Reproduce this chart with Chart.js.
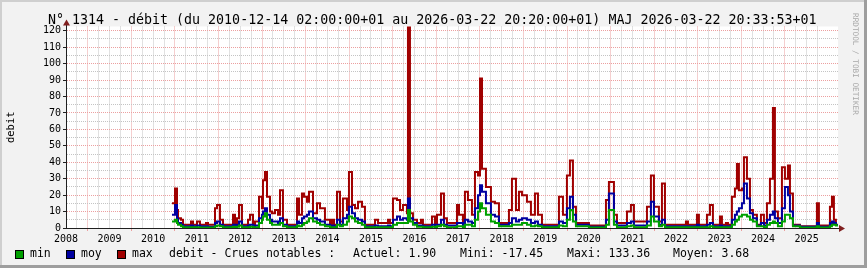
<!DOCTYPE html>
<html>
<head>
<meta charset="utf-8">
<script src="https://cdn.jsdelivr.net/npm/chart.js@4"></script>
<style>
body{margin:0;background:#fff}
#wrap{position:relative;width:867px;height:268px;background:#f2f2f2;box-shadow:inset -3px -3px 0 #9e9e9e, inset 2px 2px 0 #cfcfcf;overflow:hidden;font-family:"DejaVu Sans Mono",monospace}
canvas{position:absolute;left:0;top:0}
.t{position:absolute;white-space:pre;line-height:1;color:#000}
.lg{font-size:11.5px;top:248px}
.box{position:absolute;top:250px;width:7px;height:7px;border:1px solid #000}
#side{position:absolute;left:851px;top:13px;font-size:7.7px;color:#a8a8a8;writing-mode:vertical-rl;white-space:pre;line-height:1}
</style>
</head>
<body>
<div id="wrap">
  <canvas id="myChart" width="867" height="268"></canvas>
  <div class="t" id="title" style="left:48px;top:13px;font-size:13.3px"></div>
  <div id="side">RRDTOOL / TOBI OETIKER</div>
  <div class="box" style="left:15px;background:#00a000"></div>
  <div class="t lg" style="left:30px">min</div>
  <div class="box" style="left:66px;background:#0000a0"></div>
  <div class="t lg" style="left:81px">moy</div>
  <div class="box" style="left:117px;background:#a00000"></div>
  <div class="t lg" style="left:132px">max</div>
  <div class="t lg" style="left:169px">debit - Crues notables :</div>
  <div class="t lg" style="left:353px" id="s0"></div>
  <div class="t lg" style="left:460px" id="s1"></div>
  <div class="t lg" style="left:567px" id="s2"></div>
  <div class="t lg" style="left:673px" id="s3"></div>
</div>
<script>
const titre = 'N° 1314 - débit (du 2010-12-14 02:00:00+01 au 2026-03-22 20:20:00+01) MAJ 2026-03-22 20:33:53+01'
const stats = ['Actuel: 1.90', 'Mini: -17.45', 'Maxi: 133.36', 'Moyen: 3.68']
const yearLabels = ['2008','2009','2010','2011','2012','2013','2014','2015','2016','2017','2018','2019','2020','2021','2022','2023','2024','2025']
const yLabels = [0, 10, 20, 30, 40, 50, 60, 70, 80, 90, 100, 110, 120]

// dates en annees decimales
const times = [
  2010.933, 2011.002, 2011.048, 2011.071, 2011.139, 2011.185, 2011.369, 2011.415, 2011.507, 2011.575, 2011.713, 2011.759,
  2011.920, 2011.966, 2012.034, 2012.103, 2012.333, 2012.379, 2012.425, 2012.471, 2012.539, 2012.677, 2012.723, 2012.792, 2012.838,
  2012.930, 2012.998, 2013.021, 2013.067, 2013.113, 2013.182, 2013.228, 2013.297, 2013.366, 2013.412, 2013.480, 2013.572,
  2013.802, 2013.848, 2013.916, 2013.962, 2014.031, 2014.077, 2014.169, 2014.261, 2014.330, 2014.444, 2014.559, 2014.605, 2014.651,
  2014.720, 2014.789, 2014.857, 2014.949, 2014.995, 2015.064, 2015.133, 2015.202, 2015.294, 2015.362, 2015.592, 2015.661, 2015.890, 2015.936,
  2016.005, 2016.097, 2016.166, 2016.234, 2016.326, 2016.349, 2016.395, 2016.464, 2016.556, 2016.648, 2016.693, 2016.900, 2016.969, 2017.015,
  2017.107, 2017.175, 2017.244, 2017.474, 2017.520, 2017.611, 2017.657, 2017.726, 2017.818, 2017.887, 2017.956, 2018.002, 2018.048, 2018.139, 2018.254, 2018.346, 2018.438,
  2018.667, 2018.736, 2018.828, 2018.897, 2018.966, 2019.080, 2019.172, 2019.264, 2019.333, 2019.425,
  2019.815, 2019.907, 2019.998, 2020.067, 2020.136, 2020.205, 2020.503, 2020.894, 2020.962, 2021.077, 2021.146, 2021.376, 2021.467, 2021.536,
  2021.835, 2021.926, 2021.995, 2022.110, 2022.179, 2022.248, 2022.730, 2022.776, 2022.982, 2023.028, 2023.212, 2023.281, 2023.349, 2023.510, 2023.556, 2023.648, 2023.694,
  2023.785, 2023.854, 2023.900, 2023.946, 2024.015, 2024.061, 2024.130, 2024.199, 2024.267, 2024.359, 2024.451, 2024.520, 2024.589, 2024.658, 2024.726, 2024.772, 2024.841, 2024.933, 2025.002, 2025.071, 2025.117,
  2025.186, 2025.346, 2025.736, 2025.782, 2026.035, 2026.081, 2026.126, 2026.172, 2026.22
]
const maxVals = [
  15, 24, 11, 6, 5, 2, 4, 2, 4, 2, 3, 2,
  12, 14, 5, 2, 8, 2, 6, 14, 2, 5, 8, 2, 4,
  19, 12, 29, 34, 19, 10, 9, 11, 8, 23, 5, 2,
  18, 8, 21, 19, 16, 22, 9, 15, 12, 5, 2, 5, 2,
  22, 4, 18, 11, 34, 14, 12, 16, 13, 2, 5, 3, 5, 3,
  18, 17, 11, 14, 9, 133.36, 9, 5, 3, 5, 2, 7, 3, 8,
  21, 6, 3, 14, 8, 3, 22, 17, 8, 34, 32, 91, 36, 25, 16, 15, 3,
  11, 30, 11, 22, 20, 16, 8, 21, 8, 2,
  19, 8, 32, 41, 13, 3, 1.5, 17, 28, 8, 3, 10, 14, 4,
  13, 32, 13, 4, 27, 2, 4, 2, 8, 2, 8, 14, 2, 7, 2, 3, 2,
  19, 24, 39, 23, 24, 43, 30, 11, 8, 2, 8, 3, 15, 30, 73, 10, 6, 37, 30, 38, 21,
  2, 1, 15, 1.5, 13, 19, 5, 2, 1.9
]
const moyVals = [
  8, 14, 6, 3, 2, 1, 1.5, 1, 1.5, 1, 1, 0.8,
  3, 4, 2, 1, 2, 1, 2, 4, 1, 1.5, 2, 1, 1.5,
  6, 8, 10, 12, 8, 5, 4, 4, 3, 6, 2, 1,
  4, 3, 6, 7, 8, 10, 6, 5, 4, 2, 1, 1.5, 1,
  5, 2, 6, 8, 13, 9, 6, 5, 4, 1, 1.5, 1, 1.5, 1,
  5, 7, 5, 6, 5, 18, 6, 3, 1.5, 1.5, 1, 2, 1, 2,
  5, 2, 1.5, 3, 3, 1.5, 5, 4, 3, 12, 20, 26, 22, 15, 8, 7, 2,
  3, 6, 4, 5, 6, 5, 3, 4, 2, 1,
  4, 3, 12, 19, 8, 2, 0.8, 5, 21, 4, 1.5, 3, 4, 1.5,
  4, 16, 7, 2, 5, 1, 1, 1, 2, 1, 2, 3, 1, 1.5, 1, 1, 1,
  5, 8, 10, 12, 15, 27, 18, 9, 6, 1.5, 3, 1.5, 5, 8, 10, 6, 3, 12, 25, 20, 10,
  1.5, 0.7, 3, 0.7, 3, 4, 3, 1.9, 1.9
]
const minVals = [
  4, 5, 3, 2, 1, 0.5, 0.5, 0.5, 0.5, 0.3, 0.3, 0.3,
  1, 1.5, 1, 0.5, 0.8, 0.5, 0.8, 1.5, 0.5, 0.5, 0.8, 0.5, 0.5,
  3, 5, 7, 9, 5, 3, 2, 2, 2, 3, 1, 0.5,
  1.5, 1, 2, 3, 4, 6, 4, 3, 2, 1, 0.5, 0.5, 0.5,
  2, 1, 2, 4, 7, 6, 4, 3, 2, 0.5, 0.5, 0.5, 0.5, 0.5,
  2, 3, 3, 3, 3, 11, 4, 2, 0.8, 0.8, 0.5, 0.8, 0.5, 1,
  2, 1, 0.5, 1, 1, 0.5, 2, 2, 1, 5, 10, 15, 12, 8, 4, 3, 1,
  1, 2, 2, 2, 3, 2, 1, 1.5, 1, 0.5,
  1.5, 1, 5, 11, 4, 1, 0.3, 2, 11, 2, 0.5, 1, 1.5, 0.5,
  1.5, 7, 4, 1, 2, 0.5, 0.5, 0.5, 0.5, 0.5, 0.5, 1, 0.5, 0.5, 0.5, 0.5, 0.5,
  2, 4, 5, 7, 8, 8, 7, 5, 4, 1, 1, 0.5, 2, 3, 4, 3, 1, 4, 8, 8, 6,
  1, 0.3, 1, 0.3, 1, 2, 2, 1.5, 1.5
]

document.getElementById('title').textContent = titre
stats.forEach((s, i) => document.getElementById('s' + i).textContent = s)

function pts(vals) {
  return times.map((t, i) => ({x: t, y: vals[i]}))
}

const mono = 'DejaVu Sans Mono'
const gridMinor = '#c4c4c4'
const gridMajor = '#eca0a0'

// fond blanc de la zone de trace
const canvasBg = {
  id: 'canvasBg',
  beforeDraw(chart) {
    const a = chart.chartArea, c = chart.ctx
    c.save()
    c.fillStyle = '#fff'
    c.fillRect(a.left, a.top, a.right - a.left, a.bottom - a.top)
    c.restore()
  }
}
// fleches des axes
const arrows = {
  id: 'arrows',
  afterDraw(chart) {
    const a = chart.chartArea, c = chart.ctx
    const l = a.left + 0.5, b = a.bottom + 0.5
    c.save()
    c.strokeStyle = 'rgb(31,31,31)'
    c.lineWidth = 1
    c.beginPath()
    c.moveTo(l, a.top); c.lineTo(l, a.top - 3)
    c.moveTo(a.right, b); c.lineTo(a.right + 3, b)
    c.stroke()
    c.fillStyle = 'rgb(128,31,31)'
    c.beginPath()
    c.moveTo(l, a.top - 7); c.lineTo(l - 3.5, a.top - 1); c.lineTo(l + 3.5, a.top - 1)
    c.closePath(); c.fill()
    c.beginPath()
    c.moveTo(a.right + 7, b); c.lineTo(a.right + 1, b - 3.5); c.lineTo(a.right + 1, b + 3.5)
    c.closePath(); c.fill()
    c.restore()
  }
}

const ctx = document.getElementById('myChart')
const myChart = new Chart(ctx, {
  type: 'line',
  data: {
    datasets: [
      {label: 'min', data: pts(minVals), borderColor: '#00a000', backgroundColor: '#00a000'},
      {label: 'moy', data: pts(moyVals), borderColor: '#0000a0', backgroundColor: '#0000a0'},
      {label: 'max', data: pts(maxVals), borderColor: '#a00000', backgroundColor: '#a00000'}
    ]
  },
  options: {
    responsive: false,
    animation: false,
    layout: {padding: {top: 26.5, right: 29, bottom: 0, left: 0}},
    elements: {
      point: {radius: 0},
      line: {borderWidth: 2, stepped: 'before', tension: 0, fill: false}
    },
    plugins: {legend: {display: false}, tooltip: {enabled: false}},
    scales: {
      x: {
        type: 'linear',
        min: 2008.5,
        max: 2026.22,
        afterBuildTicks: s => {
          const tk = []
          yearLabels.forEach((y, i) => {
            for (let q = 0; q < 4; q++) {
              const v = 2008 + i + q / 4
              if (v >= 2008.5) tk.push({value: v})
            }
          })
          s.ticks = tk
        },
        afterFit: s => { s.height = 40 },
        ticks: {
          autoSkip: false, maxRotation: 0, minRotation: 0, padding: 2,
          color: '#000', font: {family: mono, size: 10},
          callback: v => {
            const q = Math.round(v * 4)
            return q % 4 === 2 ? yearLabels[Math.floor(v) - 2008] : ''
          }
        },
        grid: {
          lineWidth: 1, tickLength: 3,
          color: c => Math.round(c.tick.value * 4) % 4 === 0 ? gridMajor : gridMinor,
          tickColor: c => Math.round(c.tick.value * 4) % 4 === 0 ? gridMajor : 'rgba(0,0,0,0)'
        },
        border: {color: 'rgb(31,31,31)', width: 1, dash: [1, 1]}
      },
      y: {
        min: 0,
        max: 122.6,
        afterBuildTicks: s => {
          const tk = []
          yLabels.forEach(v => {
            tk.push({value: v})
            if (v + 5 < 122.6) tk.push({value: v + 5})
          })
          s.ticks = tk
        },
        afterFit: s => { s.width = 66 },
        title: {display: true, text: 'debit', color: '#000', font: {family: mono, size: 10.5}, padding: {top: 5, bottom: 0}},
        ticks: {
          padding: 2, autoSkip: false, color: '#000', font: {family: mono, size: 10},
          callback: v => yLabels.includes(v) ? v : ''
        },
        grid: {
          lineWidth: 1, tickLength: 3,
          color: c => yLabels.includes(c.tick.value) ? gridMajor : gridMinor,
          tickColor: c => yLabels.includes(c.tick.value) ? 'rgb(31,31,31)' : 'rgba(0,0,0,0)'
        },
        border: {color: 'rgb(31,31,31)', width: 1, dash: [1, 1]}
      }
    }
  },
  plugins: [canvasBg, arrows]
})
</script>
</body>
</html>
